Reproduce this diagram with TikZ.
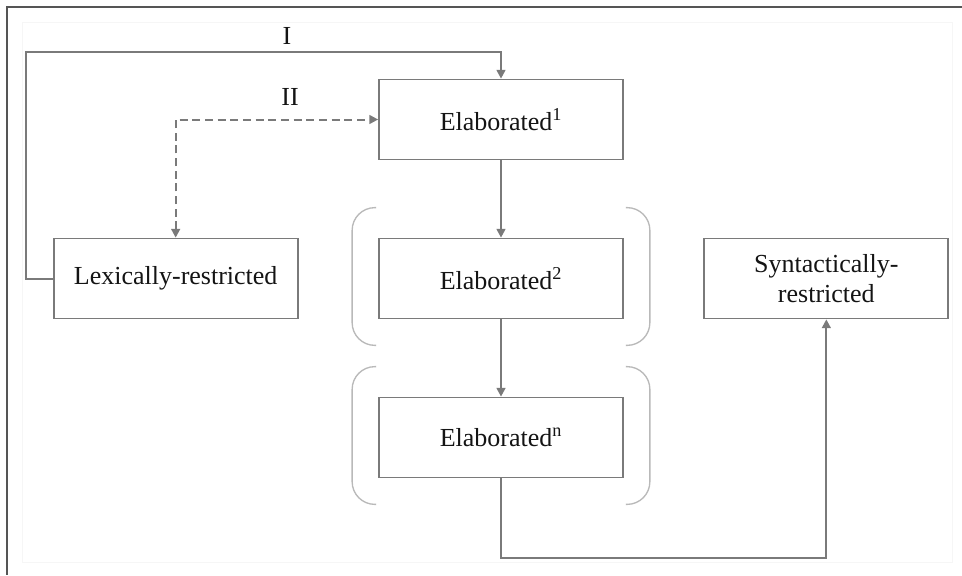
\documentclass[tikz,border=0pt]{standalone}
\usepackage{fontspec}
\setmainfont{Liberation Serif}
\usetikzlibrary{arrows.meta,calc}
\definecolor{linegray}{HTML}{7A7A7A}
\definecolor{framegray}{HTML}{555555}
\begin{document}
\begin{tikzpicture}[x=0.75pt, y=-0.75pt, node distance=119.25pt,
  block/.style={draw=linegray, line width=1.3pt, minimum width=183pt, minimum height=60pt, inner sep=0pt, align=center, text=black!92, font=\fontsize{19.5}{22.5}\selectfont},
  link/.style={draw=linegray, line width=1.5pt, -{Triangle[length=6.5pt, width=6.5pt]}},
  brace/.style={draw=gray!55, line width=1pt, rounded corners=17pt},
  tag/.style={text=black!92, font=\fontsize{19.5}{22.5}\selectfont}]

  \useasboundingbox (0,0) rectangle (962,575);
  \fill[white] (0,0) rectangle (962,575);
  \draw[gray!7] (22,22) rectangle (952,562);
  \draw[framegray, line width=1.5pt] (962,7) -- (7,7) -- (7,575);

  % Middle column
  \node[block] (E1) at (501,119.5) {Elaborated\textsuperscript{1}};
  \node[block, below of=E1] (E2) {Elaborated\textsuperscript{2}};
  \node[block, below of=E2] (En) {Elaborated\textsuperscript{n}};

  % Side blocks
  \node[block, left of=E2, node distance=244pt] (Lex) {Lexically-restricted};
  \node[block, right of=E2, node distance=244pt] (Syn) {Syntactically-\\restricted};

  % Labels
  \node[tag] (LI) at (287,36) {I};
  \node[tag] (LII) at (290,97) {II};

  % Brackets
  \draw[brace] ($(E2.north west)+(-2,-30)$) -- ++(-24,0) -- ($(E2.south west)+(-26,26)$) -- ++(24,0);
  \draw[brace] ($(E2.north east)+(2,-30)$) -- ++(24,0) -- ($(E2.south east)+(26,26)$) -- ++(-24,0);
  \draw[brace] ($(En.north west)+(-2,-30)$) -- ++(-24,0) -- ($(En.south west)+(-26,26)$) -- ++(24,0);
  \draw[brace] ($(En.north east)+(2,-30)$) -- ++(24,0) -- ($(En.south east)+(26,26)$) -- ++(-24,0);

  % Vertical arrows
  \draw[link] (E1.south) -- (E2.north);
  \draw[link] (E2.south) -- (En.north);

  % Loop I
  \draw[link] (Lex.west) -- ++(-27,0) |- ($(E1.north)+(0,-27)$) -- (E1.north);

  % Loop II
  \draw[link, {Triangle[length=6.5pt, width=6.5pt]}-{Triangle[length=6.5pt, width=6.5pt]}, dash pattern=on 6pt off 3.5pt] (Lex.north) |- (E1.west);

  % Exit
  \draw[link] (En.south) -- ++(0,80) -| (Syn.south);

\end{tikzpicture}
\end{document}
